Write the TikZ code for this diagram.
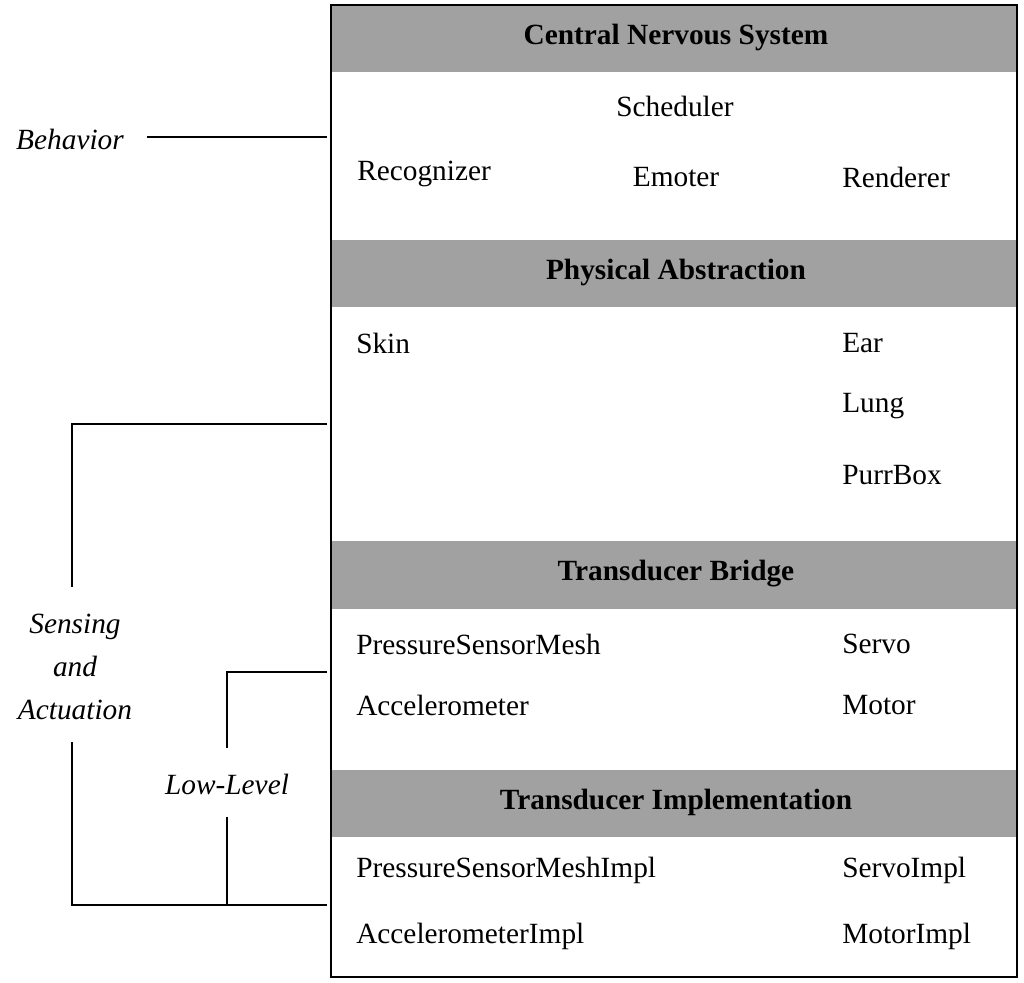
\documentclass[tikz,border=0pt]{standalone}
\usepackage{fontspec}
\setmainfont{Liberation Serif}
\begin{document}
\begin{tikzpicture}[x=0.75pt,y=-0.75pt,
  txt/.style={font=\fontsize{22}{26}\selectfont,inner sep=0pt},
  lt/.style={txt,anchor=west},
  hd/.style={txt,font=\fontsize{22}{26}\selectfont\bfseries},
  it/.style={txt,font=\fontsize{22}{26}\selectfont\itshape},
  bar/.style={fill=black!37,draw=none},
  ln/.style={line width=1.4pt}]
\useasboundingbox (0,0) rectangle (1024,982);
\fill[bar] (331,5) rectangle (1017,72);
\fill[bar] (331,240) rectangle (1017,307);
\fill[bar] (331,541) rectangle (1017,609);
\fill[bar] (331,770) rectangle (1017,837);
\draw[ln] (331,5) rectangle (1017,977);
\node[hd] (h1) at (676,37) {Central Nervous System};
\node[hd] (h2) at (676,272) {Physical Abstraction};
\node[hd] (h3) at (676,574) {Transducer Bridge};
\node[hd] (h4) at (676,802) {Transducer Implementation};
\node[txt] (sch) at (675,106) {Scheduler};
\node[lt] (rec) at (357,174) {Recognizer};
\node[txt] (emo) at (676,177) {Emoter};
\node[lt] (ren) at (842,177) {Renderer};
\node[lt] (skin) at (356,343) {Skin};
\node[lt] (ear) at (842,343) {Ear};
\node[lt] (lung) at (842,406) {Lung};
\node[lt] (purr) at (842,475) {PurrBox};
\node[lt] (psm) at (356,644) {PressureSensorMesh};
\node[lt] (servo) at (842,644) {Servo};
\node[lt] (acc) at (356,705) {Accelerometer};
\node[lt] (motor) at (842,705) {Motor};
\node[lt] (psmi) at (356,870) {PressureSensorMeshImpl};
\node[lt] (servoi) at (842,870) {ServoImpl};
\node[lt] (acci) at (356,936) {AccelerometerImpl};
\node[lt] (motori) at (842,936) {MotorImpl};
\node[it] (beh) at (70,139) {Behavior};
\node[it,align=center] (sa) at (75,667) {Sensing\\[6pt]and\\[6pt]Actuation};
\node[it] (ll) at (227,784) {Low-Level};
\coordinate (b1) at (327,137);
\coordinate (s1) at (327,424);
\coordinate (s2) at (327,905);
\coordinate (l1) at (327,672);
\draw[ln] (147,137) -- (b1);
\draw[ln] (s1) -- (72,424) -- (72,587);
\draw[ln] (72,742) -- (72,905) -- (s2);
\draw[ln] (l1) -- (227,672) -- (227,748);
\draw[ln] (227,817) -- (227,905);
\end{tikzpicture}
\end{document}
